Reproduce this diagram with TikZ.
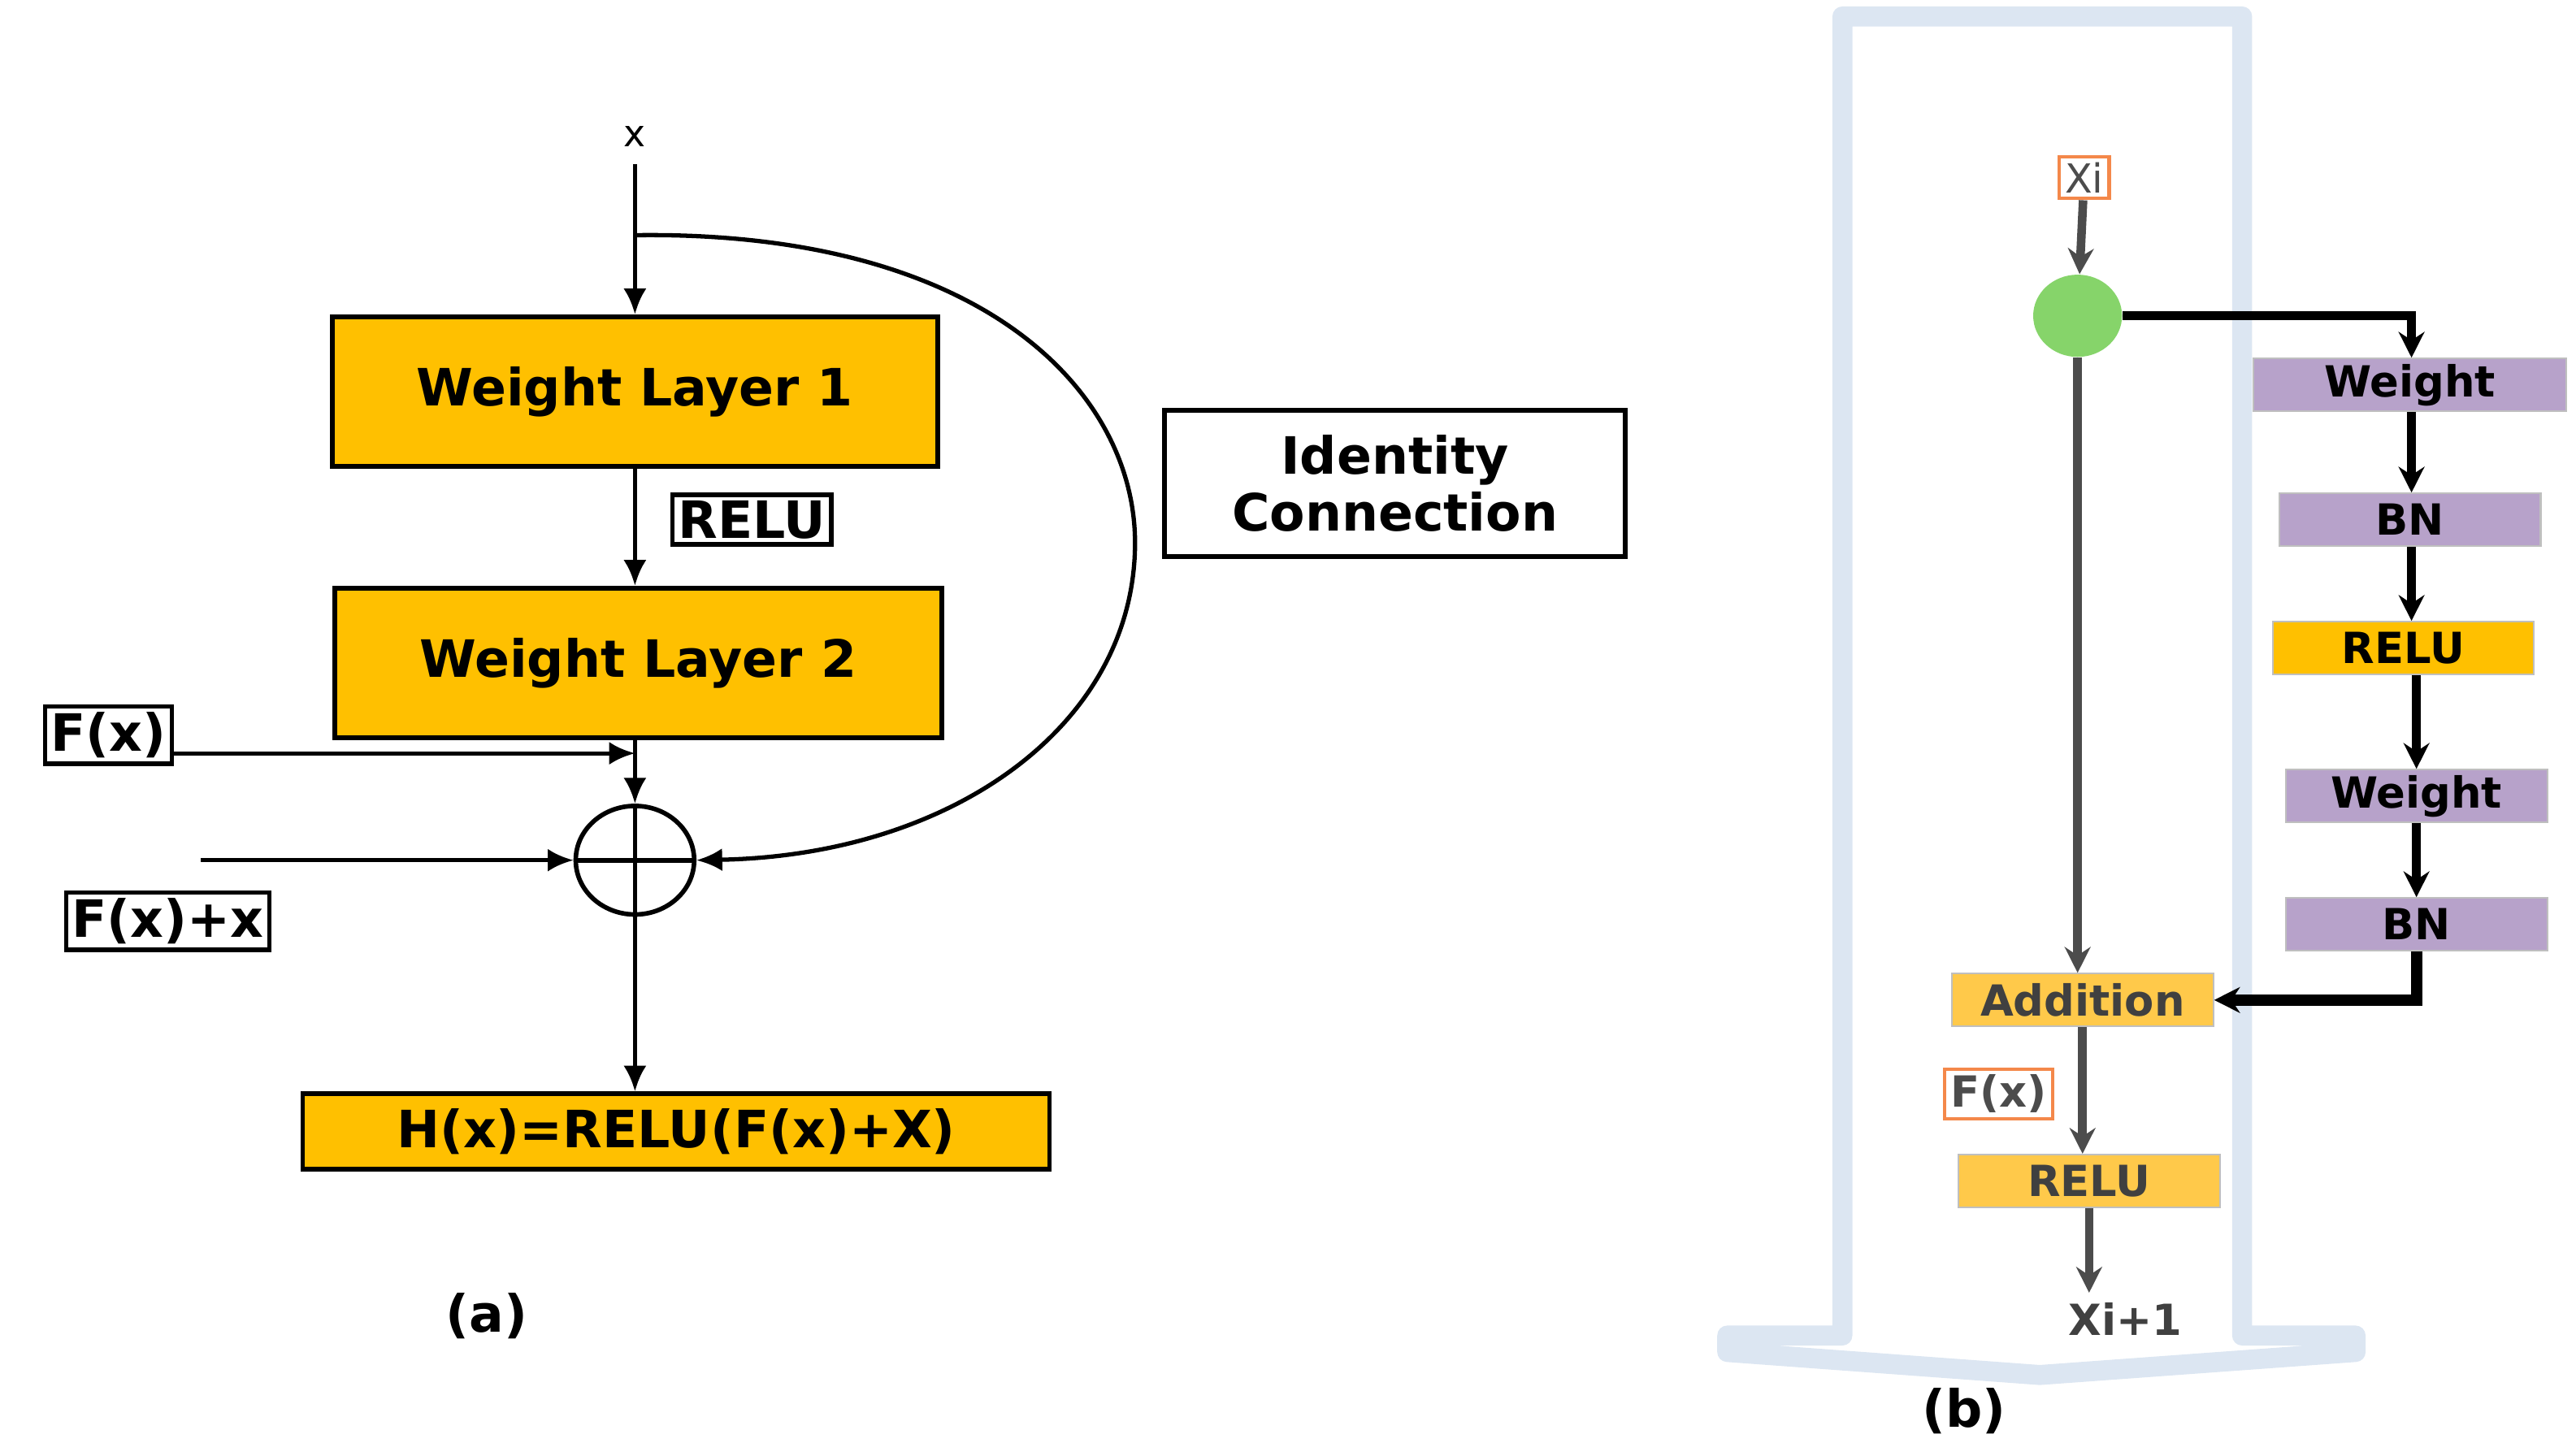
\documentclass[tikz,border=0pt]{standalone}
\usepackage{fontspec}
\setmainfont{DejaVu Sans}
\usetikzlibrary{arrows.meta,positioning,shapes.geometric}
\definecolor{gold}{HTML}{FFC000}
\definecolor{paleorange}{HTML}{FFC94A}
\definecolor{lilac}{HTML}{B7A2CA}
\definecolor{leaf}{HTML}{86D46A}
\definecolor{frame}{HTML}{DCE6F2}
\definecolor{pen}{HTML}{F4884A}
\newcommand{\px}[1]{#1*0.02024cm}
\tikzset{
    layer/.style={draw,line width=1.6pt,fill=gold,font=\fontsize{18}{20}\bfseries\selectfont,inner sep=0pt},
    tag/.style={draw,line width=1.6pt,fill=white,font=\fontsize{18}{20}\bfseries\selectfont,inner sep=2pt},
    block/.style={draw=black!25,line width=0.6pt,fill=lilac,font=\fontsize{15}{16}\bfseries\selectfont,inner sep=0pt,minimum height=\px{32}},
    note/.style={draw=pen,line width=1.2pt,fill=white,text=black!70,inner sep=2pt},
    pre/.style={-{Latex[length=9pt,width=8pt]},line width=1.5pt},
    thick pre/.style={-{Stealth[length=9pt,width=9pt]},line width=3pt},
    gray pre/.style={-{Stealth[length=9pt,width=9pt]},line width=3pt,black!70}
}
\begin{document}
\begin{tikzpicture}[x=0.02024cm,y=-0.02024cm]
\useasboundingbox (0,0) rectangle (1566,885);

% (a) plain residual block
\node (x) at (386,83) {\fontsize{13}{14}\selectfont x};
\coordinate (xtop) at (386,100);
\coordinate (split) at (386,143);
\node[layer,minimum width=\px{368},minimum height=\px{91}] (wl1) at (386,238) {Weight Layer 1};
\node[layer,minimum width=\px{369},minimum height=\px{91}] (wl2) at (388,403) {Weight Layer 2};
\node[tag] (relu) at (457,316) {RELU};
\node[tag] (fx) at (66,447) {F(x)};
\node[tag] (fxx) at (102,560) {F(x)+x};
\node[draw,line width=1.6pt,ellipse,minimum width=\px{72},minimum height=\px{66},inner sep=0pt] (sum) at (386,523) {};
\draw[line width=1.6pt] (sum.north) -- (sum.south) (sum.west) -- (sum.east);
\node[layer,minimum width=\px{454},minimum height=\px{46},inner sep=0pt] (hx) at (411,688) {H(x)=RELU(F(x)+X)};
\node[tag,align=center,minimum width=\px{280},minimum height=\px{89}] (idc) at (848,294) {Identity\\Connection};
\node (capa) at (296,800) {\fontsize{18}{20}\bfseries\selectfont(a)};
\coordinate (fxend) at (386,458);
\coordinate (fxstart) at (fx.east |- fxend);
\coordinate (sumin) at (122,523);

\draw[pre] (xtop) -- (wl1.north);
\draw[pre] (wl1.south -| xtop) -- (wl2.north -| xtop);
\draw[pre] (fxstart) -- (fxend);
\draw[pre] (wl2.south -| xtop) -- (sum.north);
\draw[pre] (sumin) -- (sum.west);
\draw[pre] (split) .. controls (600,140) and (690,240) .. (690,330)
    .. controls (690,440) and (580,520) .. (sum.east);
\draw[pre] (sum.south) -- (hx.north -| sum.south);

% (b) residual block with batch norm
\draw[frame,line width=7pt,line join=round]
    (1120,812) -- (1120,10) -- (1363,10) -- (1363,812) -- (1432,812) -- (1432,822)
    -- (1240,836) -- (1050,822) -- (1050,812) -- cycle;
\node[note,font=\fontsize{14}{15}\selectfont] (xi) at (1267,108) {Xi};
\node[ellipse,fill=leaf,minimum width=\px{54},minimum height=\px{50}] (fork) at (1263,192) {};
\node[block,minimum width=\px{190}] (w1) at (1465,234) {Weight};
\node[block,minimum width=\px{159}] (bn1) at (1465,316) {BN};
\node[block,fill=gold,minimum width=\px{159}] (r1) at (1461,394) {RELU};
\node[block,minimum width=\px{159}] (w2) at (1469,484) {Weight};
\node[block,minimum width=\px{159}] (bn2) at (1469,562) {BN};
\node[block,fill=paleorange,text=black!75,minimum width=\px{159}] (add) at (1266,608) {Addition};
\node[note,font=\fontsize{15}{16}\bfseries\selectfont] (fxb) at (1215,665) {F(x)};
\node[block,fill=paleorange,text=black!75,minimum width=\px{159}] (r2) at (1270,718) {RELU};
\node[text=black!75,font=\fontsize{15}{16}\bfseries\selectfont] (xo) at (1292,802) {Xi+1};
\node (capb) at (1194,858) {\fontsize{18}{20}\bfseries\selectfont(b)};
\coordinate (turn) at (1466,192);

\draw[gray pre] (xi) -- (fork);
\draw[thick pre] (fork.east) -- (turn) -- (w1.north -| turn);
\draw[thick pre] (w1.south -| turn) -- (bn1.north -| turn);
\draw[thick pre] (bn1.south -| turn) -- (r1.north -| turn);
\draw[thick pre] (r1.south -| bn2) -- (w2.north);
\draw[thick pre] (w2) -- (bn2);
\draw[thick pre,line width=4pt] (bn2.south) |- (add.east);
\draw[gray pre] (fork.south) -- (add.north -| fork.south);
\draw[gray pre] (add.south) -- (r2.north -| add.south);
\draw[gray pre] (r2.south) -- (xo.north -| r2.south);
\end{tikzpicture}
\end{document}
